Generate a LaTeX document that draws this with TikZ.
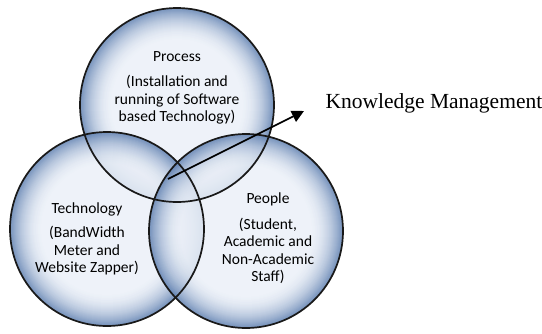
\documentclass[tikz,border=0pt]{standalone}
\usepackage{fontspec}
\setmainfont{Liberation Serif}
\newfontfamily\bubfont{Carlito}
\usetikzlibrary{positioning,arrows.meta}

\definecolor{bubin}{HTML}{EBF0F8}
\definecolor{bubout}{HTML}{5E7FB0}

\tikzset{
  bubline/.style={shape=circle, minimum size=194pt, inner sep=0pt, draw=black!90, line width=1.7pt},
  bubtext/.style={align=center, font=\bubfont\fontsize{15.5}{17.5}\selectfont},
}
% one bubble: rings from rim to centre, in a transparency group
\newcommand{\bubblering}[1]{%
  \begin{scope}[transparency group, opacity=0.85]
    \foreach \i in {0,...,34} {
      \pgfmathtruncatemacro{\p}{100*(1-\i/34)^2}
      \fill[bubout!\p!bubin] (#1) circle[radius=97pt-\i pt];
    }
  \end{scope}}

\begin{document}
\begin{tikzpicture}[x=1pt,y=-1pt]
	\useasboundingbox (0,0) rectangle (542,333);

	\coordinate (pc) at (177, 105);
	\coordinate (tc) at (107, 229);
	\coordinate (ec) at (246, 231);
	\bubblering{pc}
	\bubblering{tc}
	\bubblering{ec}
	\node[bubline] (process) at (pc) {};
	\node[bubline] (technology) at (tc) {};
	\node[bubline] (people) at (ec) {};

	\node[bubtext] (processlbl) at (177, 57) {Process};
	\node[bubtext] (processtxt) at (177, 100) {(Installation and\\running of Software\\based Technology)};
	\node[bubtext] (techlbl) at (87, 209) {Technology};
	\node[bubtext] (techtxt) at (87, 251) {(BandWidth\\Meter and\\Website Zapper)};
	\node[bubtext] (peoplelbl) at (268, 199) {People};
	\node[bubtext] (peopletxt) at (268, 251) {(Student,\\Academic and\\Non-Academic\\Staff)};

	\coordinate (km) at (168, 179);
	\coordinate (kmtip) at (304, 111);
	\node[font=\fontsize{21.5}{23}\selectfont, anchor=west] (kmlbl) at (322, 103) {Knowledge Management};

	\draw[-{Triangle[length=12pt,width=12pt]}, line width=1.6pt] (km) -- (kmtip);
\end{tikzpicture}
\end{document}
